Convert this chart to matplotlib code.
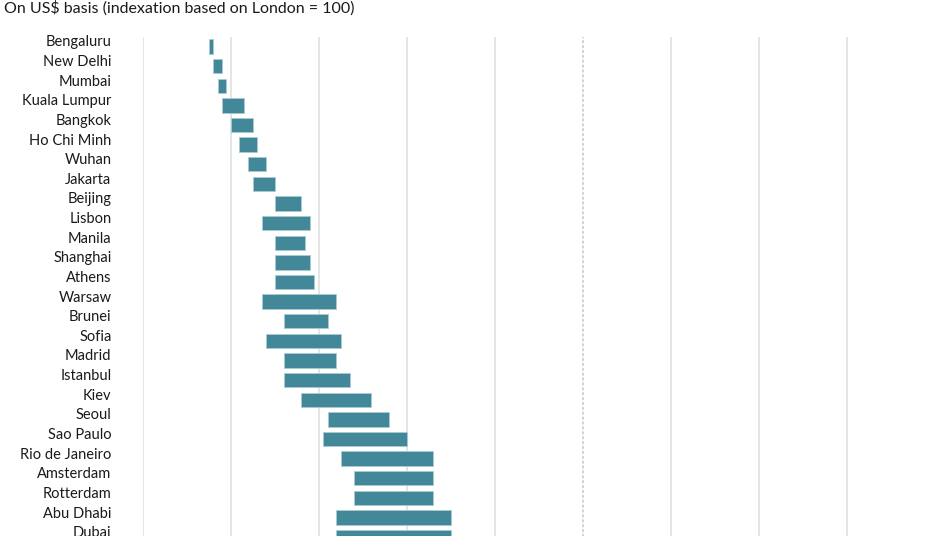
import matplotlib.pyplot as plt
import numpy as np

plt.rcParams['font.family'] = ['Lato', 'DejaVu Sans']

# Data: low / high index per city (London = 100)
cities = ["Bengaluru", "New Delhi", "Mumbai", "Kuala Lumpur", "Bangkok", "Ho Chi Minh",
          "Wuhan", "Jakarta", "Beijing", "Lisbon", "Manila", "Shanghai", "Athens",
          "Warsaw", "Brunei", "Sofia", "Madrid", "Istanbul", "Kiev", "Seoul",
          "Sao Paulo", "Rio de Janeiro", "Amsterdam", "Rotterdam", "Abu Dhabi", "Dubai"]
low = [15, 16, 17, 18, 20, 22, 24, 25, 30, 27, 30, 30, 30,
       27, 32, 28, 32, 32, 36, 42, 41, 45, 48, 48, 44, 44]
high = [16, 18, 19, 23, 25, 26, 28, 30, 36, 38, 37, 38, 39,
        44, 42, 45, 44, 47, 52, 56, 60, 66, 66, 66, 70, 70]
grid_values = [0, 20, 40, 60, 80, 120, 140, 160]
london = 100

W, H = 928, 536
fig = plt.figure(figsize=(W / 100, H / 100), dpi=100)
# axes spans from grid value 0 to right edge, extended below the figure
x0, top, bot = 142.7, 37, 560
ax = fig.add_axes([x0 / W, 1 - bot / H, (W - x0) / W, (bot - top) / H])

y = np.arange(len(cities))
widths = np.array(high) - np.array(low)
ax.barh(y, widths, left=low, height=0.73, color="#428898",
        edgecolor="#a9cbd3", linewidth=0.6, zorder=3)

for g in grid_values:
    ax.axvline(g, color="#e3e3e3", linewidth=1.3, zorder=1)
ax.axvline(london, color="#c8c8c8", linewidth=1.1, linestyle=(0, (2, 1.2)), zorder=1)

ax.set_xlim(0, (W - x0) / 4.4)
ax.set_ylim((bot - 46.5) / 19.625, (top - 46.5) / 19.625)
ax.set_yticks(y)
ax.set_yticklabels(cities, fontsize=10.5, color="#1a1a1a")
for lbl in ax.get_yticklabels():
    lbl.set_va("baseline")
ax.tick_params(axis="y", length=0, pad=22.5)
ax.set_xticks([])
for s in ax.spines.values():
    s.set_visible(False)

fig.text(4 / W, 1 - 8 / H, "On US$ basis (indexation based on London = 100)",
         fontsize=11.5, color="#1a1a1a", va="center", ha="left")

fig.savefig("out.png", dpi=100)
